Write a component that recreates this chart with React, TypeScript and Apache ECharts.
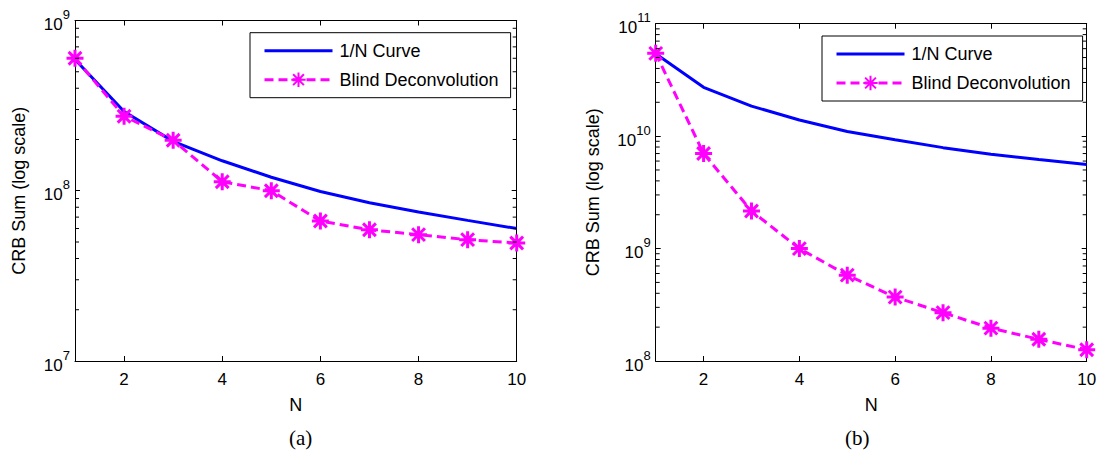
import React, { useEffect, useRef } from "react";
import * as echarts from "echarts";

// ---- data ----
const N = [1, 2, 3, 4, 5, 6, 7, 8, 9, 10];
const curveA = [5.9e8, 2.92e8, 1.95e8, 1.5e8, 1.2e8, 9.9e7, 8.5e7, 7.5e7, 6.7e7, 6.0e7];
const blindA = [6.0e8, 2.74e8, 1.98e8, 1.13e8, 1.0e8, 6.64e7, 5.9e7, 5.52e7, 5.16e7, 4.93e7];
const curveB = [5.4e10, 2.72e10, 1.85e10, 1.39e10, 1.1e10, 9.3e9, 7.9e9, 6.9e9, 6.2e9, 5.6e9];
const blindB = [5.45e10, 7.0e9, 2.16e9, 1.0e9, 5.8e8, 3.7e8, 2.69e8, 1.96e8, 1.56e8, 1.26e8];
const xTicks = [2, 4, 6, 8, 10];
const yRangeA = [1e7, 1e9];
const yRangeB = [1e8, 1e11];
const minorMantissas = [2, 3, 4, 5, 6, 7, 8, 9];
const decadesA = [1e7, 1e8];
const decadesB = [1e8, 1e9, 1e10];
const seriesNames = ["1/N Curve", "Blind Deconvolution"];
const yName = "CRB Sum (log scale)";
const xName = "N";
const panelLabels = ["(a)", "(b)"];

const SANS = "'Liberation Sans', Arial, sans-serif";
const SERIF = "'Liberation Serif', 'Times New Roman', serif";
const STAR = "path://M0 -10 L0 10 M-10 0 L10 0 M-7.5 -7.5 L7.5 7.5 M-7.5 7.5 L7.5 -7.5";

const minorTicks = (decades: number[]) => {
  const out: number[][] = [];
  decades.forEach((d) => minorMantissas.forEach((m) => out.push([1, m * d])));
  return out;
};

const pair = (vals: number[]) => N.map((n, i) => [n, vals[i]]);

function axesFor(gi: number, yr: number[], nameGap: number) {
  const axisLine = { show: true, onZero: false, lineStyle: { color: "#000", width: 1 } };
  const xAxes = [
    {
      gridIndex: gi, type: "value", min: 1, max: 10, position: "bottom",
      axisLine,
      axisTick: { show: true, inside: true, length: 5, customValues: xTicks, lineStyle: { color: "#000" } },
      axisLabel: { customValues: xTicks, color: "#000", fontSize: 17, fontFamily: SANS, margin: 10 },
      splitLine: { show: false },
      name: xName, nameLocation: "middle", nameGap: 35,
      nameTextStyle: { color: "#000", fontSize: 18, fontFamily: SANS },
    },
    {
      gridIndex: gi, type: "value", min: 1, max: 10, position: "top",
      axisLine,
      axisTick: { show: true, inside: true, length: 5, customValues: xTicks, lineStyle: { color: "#000" } },
      axisLabel: { show: false },
      splitLine: { show: false },
    },
  ];
  const yAxes = [
    {
      gridIndex: gi, type: "log", logBase: 10, min: yr[0], max: yr[1], position: "left",
      axisLine,
      axisTick: { show: true, inside: true, length: 5, lineStyle: { color: "#000" } },
      axisLabel: {
        color: "#000", margin: 5, showMinLabel: true, showMaxLabel: true,
        formatter: (v: number) => `{b|10}{s|${Math.round(Math.log10(v))}}`,
        rich: {
          b: { fontSize: 17, fontFamily: SANS, color: "#000", lineHeight: 25, verticalAlign: "bottom" },
          s: { fontSize: 13, fontFamily: SANS, color: "#000", lineHeight: 13, padding: [0, 0, 19, 0], verticalAlign: "top" },
        },
      },
      splitLine: { show: false },
      name: yName, nameLocation: "middle", nameGap,
      nameTextStyle: { color: "#000", fontSize: 18, fontFamily: SANS },
    },
    {
      gridIndex: gi, type: "log", logBase: 10, min: yr[0], max: yr[1], position: "right",
      axisLine,
      axisTick: { show: true, inside: true, length: 5, lineStyle: { color: "#000" } },
      axisLabel: { show: false },
      splitLine: { show: false },
    },
  ];
  return { xAxes, yAxes };
}

function seriesFor(gi: number, curve: number[], blind: number[], decades: number[]) {
  return [
    {
      type: "line", name: seriesNames[0], xAxisIndex: gi * 2, yAxisIndex: gi * 2,
      data: pair(curve), symbol: "none",
      lineStyle: { color: "#0000FF", width: 3 }, itemStyle: { color: "#0000FF" }, z: 2,
    },
    {
      type: "line", name: seriesNames[1], xAxisIndex: gi * 2, yAxisIndex: gi * 2,
      data: pair(blind), symbol: STAR, symbolSize: 17,
      lineStyle: { color: "#FF00FF", width: 3, type: [9, 5] },
      itemStyle: { color: "#FF00FF", borderColor: "#FF00FF", borderWidth: 3 }, z: 3,
    },
    {
      type: "custom", xAxisIndex: gi * 2, yAxisIndex: gi * 2, silent: true, z: 4,
      data: minorTicks(decades), encode: { x: 0, y: 1 },
      renderItem: (params: any, api: any) => {
        const v = api.value(1);
        const l = api.coord([1, v]);
        const r = api.coord([10, v]);
        return {
          type: "group",
          children: [
            { type: "line", shape: { x1: l[0], y1: l[1], x2: l[0] + 4, y2: l[1] }, style: { stroke: "#000", lineWidth: 1 } },
            { type: "line", shape: { x1: r[0] - 4, y1: r[1], x2: r[0], y2: r[1] }, style: { stroke: "#000", lineWidth: 1 } },
          ],
        };
      },
    },
  ];
}

export default function App() {
  const ref = useRef<HTMLDivElement>(null);
  useEffect(() => {
    if (!ref.current) return;
    const chart = echarts.init(ref.current, undefined, { renderer: "svg" });
    const a = axesFor(0, yRangeA, 47);
    const b = axesFor(1, yRangeB, 54);
    const legendBase = {
      orient: "vertical",
      data: [
        { name: seriesNames[0], itemStyle: { opacity: 0 } },
        { name: seriesNames[1] },
      ],
      backgroundColor: "#fff",
      borderColor: "#000",
      borderWidth: 1,
      borderRadius: 0,
      itemWidth: 68,
      itemHeight: 18,
      itemGap: 11,
      padding: [9, 12, 9, 13],
      selectedMode: false,
      lineStyle: { width: 3 },
      textStyle: { color: "#000", fontSize: 18, fontFamily: SANS, lineHeight: 18, padding: [0, 0, 0, 2] },
    };
    chart.setOption({
      animation: false,
      backgroundColor: "#fff",
      grid: [
        { left: 75, top: 20.5, width: 441.7, height: 340.5 },
        { left: 655.7, top: 23.7, width: 431, height: 337.3 },
      ],
      xAxis: [...a.xAxes, ...b.xAxes],
      yAxis: [...a.yAxes, ...b.yAxes],
      legend: [
        { ...legendBase, left: 250, top: 32.7 },
        { ...legendBase, left: 822, top: 36 },
      ],
      series: [...seriesFor(0, curveA, blindA, decadesA), ...seriesFor(1, curveB, blindB, decadesB)],
      graphic: [
        { type: "text", left: 289, top: 427, style: { text: panelLabels[0], fontSize: 21, fontFamily: SERIF, fill: "#000" } },
        { type: "text", left: 845, top: 427, style: { text: panelLabels[1], fontSize: 21, fontFamily: SERIF, fill: "#000" } },
      ],
    });
    return () => chart.dispose();
  }, []);
  return <div ref={ref} style={{ position: "fixed", left: 0, top: 0, width: 1104, height: 453 }} />;
}
